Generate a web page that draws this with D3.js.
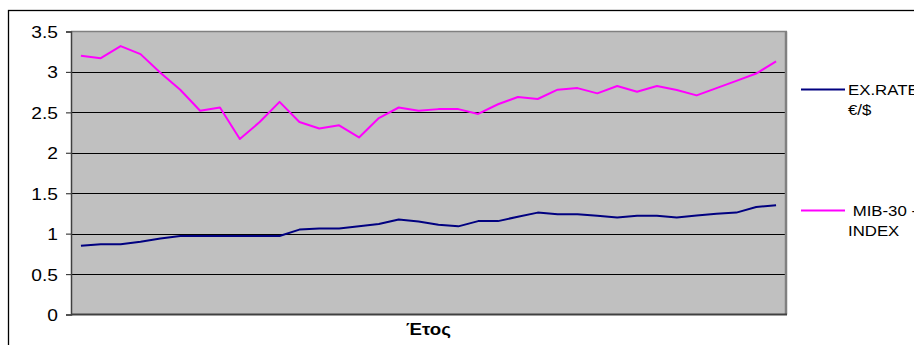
<!DOCTYPE html>
<html>
<head>
<meta charset="utf-8">
<script src="https://cdn.jsdelivr.net/npm/d3@7"></script>
<style>
  html, body { margin: 0; padding: 0; background: #fff; overflow: hidden; }
  svg { display: block; }
  text { font-family: "Liberation Sans", Arial, sans-serif; }
</style>
</head>
<body>
<svg id="chart" width="914" height="345"></svg>
<script>
// ---- data ----
const categories = d3.range(1, 37).map(String);
const exRate = [0.85, 0.87, 0.87, 0.90, 0.94, 0.97, 0.97, 0.97, 0.97, 0.97, 0.97,
  1.05, 1.065, 1.065, 1.09, 1.12, 1.175, 1.15, 1.11, 1.09, 1.155, 1.155, 1.21, 1.26,
  1.24, 1.24, 1.22, 1.20, 1.22, 1.22, 1.20, 1.225, 1.245, 1.26, 1.33, 1.35];
const mib30 = [3.20, 3.17, 3.32, 3.22, 2.99, 2.78, 2.52, 2.56, 2.17, 2.38, 2.63,
  2.38, 2.30, 2.34, 2.19, 2.43, 2.56, 2.52, 2.54, 2.54, 2.48, 2.60, 2.69, 2.665,
  2.78, 2.80, 2.735, 2.826, 2.755, 2.826, 2.776, 2.71, 2.80, 2.89, 2.98, 3.13];
const yTicks = [0, 0.5, 1, 1.5, 2, 2.5, 3, 3.5];
const seriesNames = [["EX.RATE", "€/$"], [" MIB-30 -", "INDEX"]];
const seriesColors = ["#000080", "#ff00ff"];
const axisTitle = "Έτος";

// ---- layout ----
const svg = d3.select("#chart");
const plot = { left: 71, right: 786, top: 31.5, bottom: 314.5 };

const x = d3.scaleBand().domain(categories).range([plot.left, plot.right]);
const y = d3.scaleLinear().domain([0, 3.5]).range([plot.bottom, plot.top]);
const cx = d => x(d) + x.bandwidth() / 2;

// outer frame
svg.append("rect")
  .attr("x", 8.5).attr("y", 10.5).attr("width", 1000).attr("height", 1000)
  .attr("fill", "#fff").attr("stroke", "#000").attr("stroke-width", 1.3);

// plot background
svg.append("rect")
  .attr("x", plot.left).attr("y", plot.top)
  .attr("width", plot.right - plot.left).attr("height", plot.bottom - plot.top)
  .attr("fill", "#c0c0c0");

// gridlines
svg.append("g").selectAll("line")
  .data(yTicks.filter(t => t > 0 && t < 3.5))
  .join("line")
  .attr("x1", plot.left).attr("x2", plot.right)
  .attr("y1", d => Math.round(y(d)) + 0.5).attr("y2", d => Math.round(y(d)) + 0.5)
  .attr("stroke", "#000").attr("stroke-width", 1.2);

// plot border top / right
svg.append("line").attr("x1", plot.left).attr("x2", plot.right + 1)
  .attr("y1", plot.top).attr("y2", plot.top)
  .attr("stroke", "#808080").attr("stroke-width", 1.5);
svg.append("line").attr("x1", plot.right).attr("x2", plot.right)
  .attr("y1", plot.top).attr("y2", plot.bottom)
  .attr("stroke", "#808080").attr("stroke-width", 2.5);

// y axis
const yAxis = d3.axisLeft(y).tickValues(yTicks).tickSize(5).tickPadding(0)
  .tickFormat(d3.format(""));
const gy = svg.append("g").attr("transform", `translate(${plot.left},0)`).call(yAxis);
gy.select(".domain").attr("stroke", "#404040").attr("stroke-width", 1.5);
gy.selectAll(".tick line").attr("stroke", "#404040").attr("stroke-width", 1.2);
gy.selectAll(".tick text").remove();
gy.selectAll(".tick").append("text")
  .attr("transform", "translate(-13,6) scale(1.2,1)")
  .attr("text-anchor", "end")
  .attr("fill", "#000")
  .attr("font-size", 16)
  .text(d => d3.format("")(d));

// x axis (no labels)
svg.append("line").attr("x1", plot.left).attr("x2", plot.right + 1)
  .attr("y1", plot.bottom).attr("y2", plot.bottom)
  .attr("stroke", "#404040").attr("stroke-width", 1.8);

// lines
const line = d3.line().x((d, i) => cx(categories[i])).y(d => y(d));
[exRate, mib30].forEach((s, k) => {
  svg.append("path").datum(s)
    .attr("fill", "none").attr("stroke", seriesColors[k])
    .attr("stroke-width", 2).attr("stroke-linejoin", "round")
    .attr("d", line);
});

// axis title
svg.append("text")
  .attr("transform", `translate(${(plot.left + plot.right) / 2},335) scale(1.1,1)`)
  .attr("text-anchor", "middle").attr("font-weight", "bold").attr("font-size", 17)
  .text(axisTitle);

// legend
const legendY = [89.5, 210.5];
seriesNames.forEach((lines, k) => {
  const g = svg.append("g");
  g.append("line").attr("x1", 801).attr("x2", 845)
    .attr("y1", legendY[k]).attr("y2", legendY[k])
    .attr("stroke", seriesColors[k]).attr("stroke-width", 2);
  lines.forEach((t, j) => {
    g.append("text")
      .attr("transform", `translate(848,${legendY[k] + 5.5 + j * 20}) scale(1.2,1)`)
      .attr("font-size", 14).attr("fill", "#000")
      .attr("xml:space", "preserve")
      .style("white-space", "pre")
      .text(t);
  });
});
</script>
</body>
</html>
